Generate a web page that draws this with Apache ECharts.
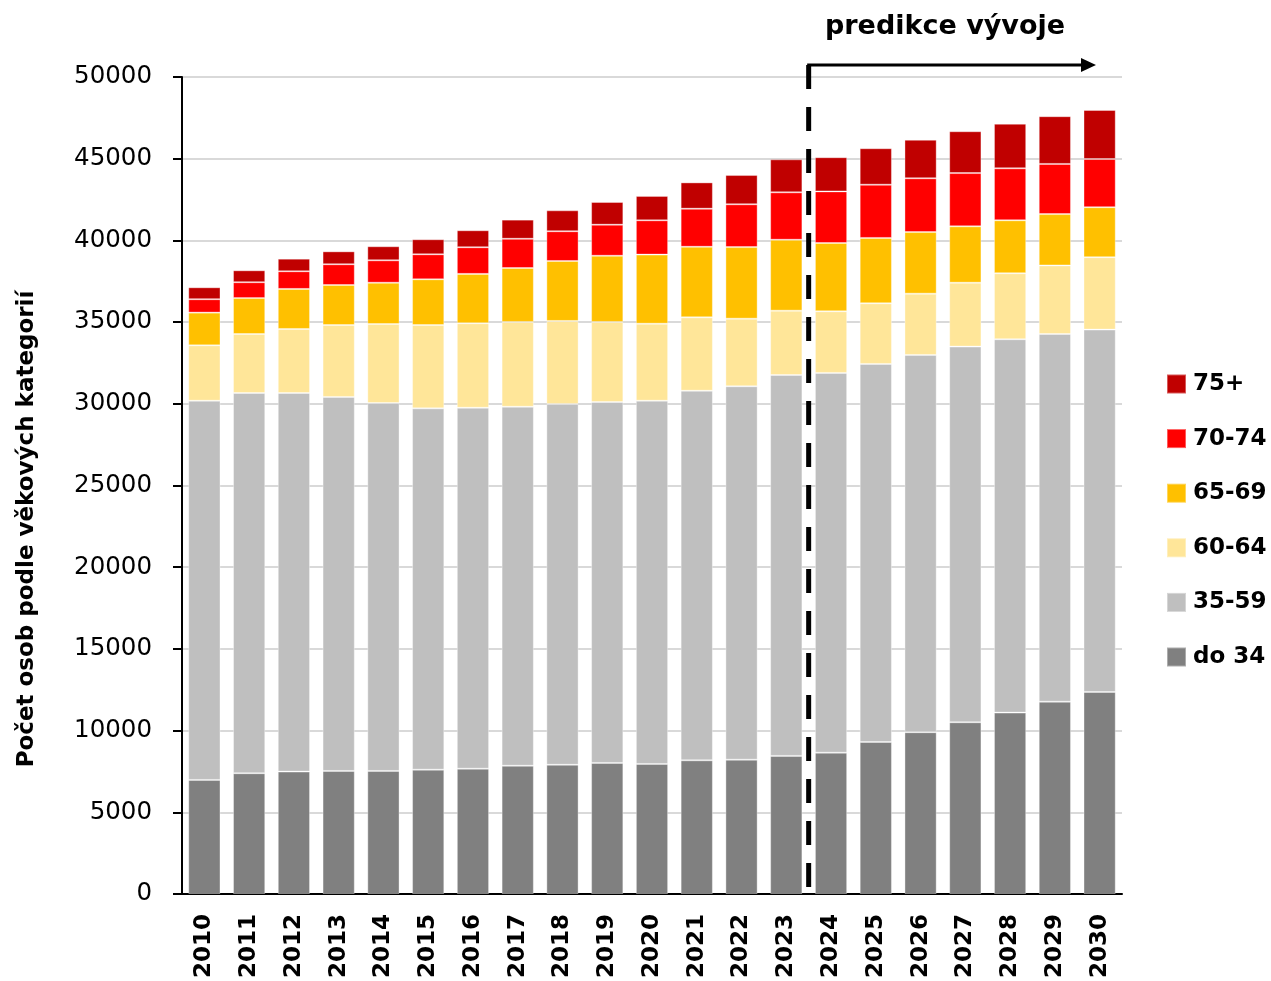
<!DOCTYPE html>
<html>
<head>
<meta charset="utf-8">
<script src="https://cdn.jsdelivr.net/npm/echarts@6/dist/echarts.min.js"></script>
<style>
  html, body { margin: 0; padding: 0; background: #fff; }
  #chart { width: 1271px; height: 981px; }
</style>
</head>
<body>
<div id="chart"></div>
<script>
// Years on the category axis
const years = ['2010','2011','2012','2013','2014','2015','2016','2017','2018','2019','2020',
               '2021','2022','2023','2024','2025','2026','2027','2028','2029','2030'];

// Number of persons per age group
const ageTo34  = [6980,7390,7490,7530,7530,7610,7670,7850,7910,8020,7960,8180,8220,8450,8650,9300,9900,10510,11100,11770,12360];
const age35_59 = [23210,23270,23170,22890,22520,22110,22090,21970,22080,22090,22230,22620,22850,23310,23240,23140,23090,22990,22850,22500,22180];
const age60_64 = [3390,3610,3920,4400,4830,5100,5170,5190,5080,4900,4710,4490,4140,3940,3770,3710,3750,3910,4040,4200,4430];
const age65_69 = [2000,2200,2450,2450,2530,2800,3020,3300,3670,4050,4230,4320,4380,4340,4180,4000,3770,3450,3240,3140,3060];
const age70_74 = [820,970,1080,1270,1370,1530,1630,1790,1820,1900,2100,2330,2620,2900,3160,3260,3290,3260,3180,3070,2950];
const age75p   = [730,730,770,790,860,920,1040,1170,1280,1390,1490,1610,1790,2020,2090,2230,2360,2560,2730,2920,3000];

const groupNames = ['do 34','35-59','60-64','65-69','70-74','75+'];
const groupData  = [ageTo34, age35_59, age60_64, age65_69, age70_74, age75p];
const groupColors = ['#808080','#bfbfbf','#ffe699','#ffc000','#ff0000','#c00000'];

const firstForecastYear = '2024';
const forecastLabel = 'predikce vývoje';
const yTitle = 'Počet osob podle věkových kategorií';

const FONT = '"DejaVu Sans", sans-serif';
const chart = echarts.init(document.getElementById('chart'), null, { renderer: 'canvas' });

const series = groupNames.map((name, i) => ({
  name: name,
  type: 'bar',
  stack: 'total',
  data: groupData[i],
  barCategoryGap: '28%',
  itemStyle: { color: groupColors[i], borderColor: 'rgba(255,255,255,0.35)', borderWidth: 1 },
  emphasis: { disabled: true }
}));

chart.setOption({
  animation: false,
  grid: { left: 182, right: 149, top: 77, bottom: 87, containLabel: false },
  legend: {
    orient: 'vertical',
    left: 1166,
    top: 372,
    padding: 0,
    itemWidth: 19,
    itemHeight: 19,
    itemGap: 30.6,
    icon: 'rect',
    data: groupNames.slice().reverse(),
    textStyle: {
      fontFamily: FONT, fontWeight: 'bold', fontSize: 23, lineHeight: 24,
      color: '#000', padding: [0, 0, 0, 2]
    }
  },
  xAxis: {
    type: 'category',
    data: years,
    axisLine: { lineStyle: { color: '#000', width: 2 } },
    axisTick: { show: false },
    axisLabel: {
      rotate: 90,
      margin: 20,
      fontFamily: FONT,
      fontWeight: 'bold',
      fontSize: 23,
      color: '#000'
    }
  },
  yAxis: {
    type: 'value',
    min: 0,
    max: 50000,
    interval: 5000,
    axisLine: { show: true, lineStyle: { color: '#000', width: 2 } },
    axisTick: { show: true, length: 9, lineStyle: { color: '#000', width: 2 } },
    axisLabel: {
      margin: 30,
      fontFamily: FONT,
      fontSize: 24.5,
      color: '#000',
      formatter: (v) => String(v)
    },
    splitLine: { lineStyle: { color: '#d9d9d9', width: 2 } }
  },
  series: series
});

// Forecast divider: dashed line on the boundary between the last observed
// year and the first forecast year, with an arrow pointing to the right.
const idx = years.indexOf(firstForecastYear);
const xPrev = chart.convertToPixel({ xAxisIndex: 0 }, years[idx - 1]);
const xNext = chart.convertToPixel({ xAxisIndex: 0 }, years[idx]);
const xDiv = (xPrev + xNext) / 2;
const yBase = chart.convertToPixel({ yAxisIndex: 0 }, 0);
const yTop = chart.convertToPixel({ yAxisIndex: 0 }, 50000);
const yArrow = yTop - 12;
const xArrowEnd = 1096;

chart.setOption({
  graphic: [
    {
      type: 'line',
      shape: { x1: xDiv, y1: yArrow, x2: xDiv, y2: yBase },
      style: { stroke: '#000', lineWidth: 5, lineDash: [24, 18] },
      z: 100
    },
    {
      type: 'line',
      shape: { x1: xDiv - 1.5, y1: yArrow, x2: xArrowEnd - 12, y2: yArrow },
      style: { stroke: '#000', lineWidth: 3 },
      z: 100
    },
    {
      type: 'polygon',
      shape: { points: [[xArrowEnd - 15, yArrow - 7], [xArrowEnd, yArrow], [xArrowEnd - 15, yArrow + 7]] },
      style: { fill: '#000' },
      z: 100
    },
    {
      type: 'text',
      x: 945,
      y: 27,
      style: {
        text: forecastLabel,
        fontFamily: FONT,
        fontWeight: 'bold',
        fontSize: 27,
        fill: '#000',
        align: 'center',
        verticalAlign: 'middle'
      },
      z: 100
    },
    {
      type: 'text',
      x: 27,
      y: 529,
      rotation: Math.PI / 2,
      style: {
        text: yTitle,
        fontFamily: FONT,
        fontWeight: 'bold',
        fontSize: 23,
        fill: '#000',
        align: 'center',
        verticalAlign: 'middle'
      },
      z: 100
    }
  ]
});
</script>
</body>
</html>
